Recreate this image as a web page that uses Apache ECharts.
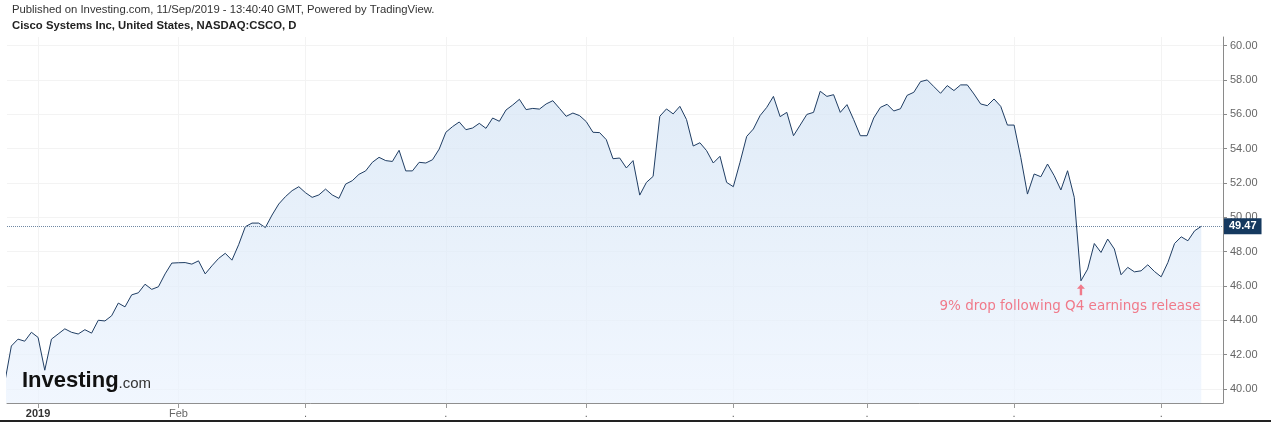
<!DOCTYPE html>
<html><head><meta charset="utf-8">
<script src="https://cdn.jsdelivr.net/npm/echarts@6/dist/echarts.min.js"></script>
<style>html,body{margin:0;padding:0;background:#fff}#c{width:1271px;height:423px}</style>
</head><body><div id="c"></div>
<script>
// Daily closes, 24 Dec 2018 .. 11 Sep 2019 (trading days)
const prices = [
40.35,42.5,42.9,42.78,43.3,43.0,41.09,42.9,43.2,43.5,
43.3,43.2,43.45,43.25,44.0,43.96,44.26,45.0,44.78,45.48,
45.6,46.1,45.8,45.95,46.7,47.33,47.35,47.36,47.27,47.46,
46.7,47.17,47.6,47.9,47.5,48.4,49.45,49.66,49.66,49.4,
50.13,50.77,51.2,51.55,51.78,51.43,51.16,51.3,51.64,51.3,
51.1,51.93,52.13,52.5,52.7,53.2,53.49,53.3,53.25,53.9,
52.7,52.7,53.2,53.16,53.35,53.97,54.95,55.28,55.55,55.1,
55.2,55.47,55.18,55.78,55.59,56.25,56.54,56.87,56.27,56.34,
56.3,56.6,56.79,56.34,55.88,56.07,55.92,55.57,54.95,54.93,
54.52,53.41,53.45,52.87,53.3,51.29,52.03,52.38,55.88,56.31,
56.02,56.46,55.69,54.15,54.34,53.88,53.16,53.55,52.03,51.78,
53.2,54.71,55.14,55.92,56.4,57.04,55.86,56.11,54.75,55.37,
55.99,56.11,57.34,57.04,57.14,56.11,56.56,55.69,54.75,54.75,
55.78,56.4,56.58,56.19,56.32,57.1,57.28,57.9,58.0,57.61,
57.22,57.67,57.38,57.71,57.71,57.18,56.6,56.5,56.89,56.46,
55.37,55.37,53.49,51.35,52.52,52.36,53.1,52.42,51.59,52.71,
51.16,46.3,46.98,48.47,47.95,48.73,48.15,46.65,47.08,46.82,
46.88,47.23,46.84,46.53,47.36,48.47,48.86,48.63,49.21,49.47
];
const lastPrice = 49.47;
const monthTickIdx = [5,26,45,66,87,109,129,151,173];
const monthTickLabels = ['2019','Feb','.','.','.','.','.','.','.'];
const yTicks = [40,42,44,46,48,50,52,54,56,58,60];
const headerLine1 = 'Published on Investing.com, 11/Sep/2019 - 13:40:40 GMT, Powered by TradingView.';
const headerLine2 = 'Cisco Systems Inc, United States, NASDAQ:CSCO, D';
const annotationText = '9% drop following Q4 earnings release';
const annotationIdx = 161;

const chart = echarts.init(document.getElementById('c'), null, {renderer:'canvas'});
const font = 'Arial, "Liberation Sans", sans-serif';
const wideFont = '"DejaVu Sans", Verdana, sans-serif';
chart.setOption({
  animation:false,
  backgroundColor:'#fff',
  textStyle:{fontFamily:font},
  title:[
    {text:headerLine1,left:12,top:4,padding:0,textStyle:{fontSize:11.3,fontWeight:'normal',color:'#333',fontFamily:font}},
    {text:headerLine2,left:12,top:20,padding:0,textStyle:{fontSize:11.3,fontWeight:'bold',color:'#222',fontFamily:font}}
  ],
  grid:{left:7,right:48,top:37,bottom:20},
  xAxis:{
    type:'value',min:0.35,max:182.25,
    axisLine:{show:true,lineStyle:{color:'#8f8f8f',width:1}},
    axisTick:{show:true,customValues:monthTickIdx,length:5,lineStyle:{color:'#9a9a9a'}},
    splitLine:{show:true,lineStyle:{color:'#f3f3f3',width:1}},
    axisLabel:{
      customValues:monthTickIdx,margin:5,fontSize:11,
      formatter:function(v){const k=monthTickIdx.indexOf(Math.round(v));const t=k>=0?monthTickLabels[k]:'';return k===0?'{b|'+t+'}':'{n|'+t+'}';},
      rich:{b:{fontWeight:'bold',color:'#333',fontSize:11,fontFamily:font},n:{color:'#666',fontSize:11,fontFamily:font}}
    }
  },
  yAxis:{
    type:'value',position:'right',min:39.18,max:60.5,
    axisLine:{show:true,lineStyle:{color:'#8a8a8a',width:1}},
    axisTick:{show:true,customValues:yTicks,length:4,lineStyle:{color:'#8a8a8a'}},
    splitLine:{show:true,lineStyle:{color:'#f3f3f3',width:1}},
    axisLabel:{customValues:yTicks,margin:7,fontSize:11,color:'#666',formatter:function(v){return v.toFixed(2);}}
  },
  graphic:[
    {type:'text',left:22,top:370,z:50,style:{
      text:'{a|Investing}{b|.com}',
      rich:{a:{fontSize:22,fontWeight:'bold',fill:'#111',fontFamily:font,lineHeight:24,verticalAlign:'bottom'},
            b:{fontSize:15,fill:'#333',fontFamily:font,lineHeight:24,verticalAlign:'bottom',padding:[0,0,1,0]}}
    }},
    {type:'line',z:50,shape:{x1:0,y1:421,x2:1271,y2:421},style:{stroke:'#222',lineWidth:2}}
  ],
  series:[{
    type:'line',
    data:prices.map(function(v,i){return [i,v];}),
    symbol:'none',
    lineStyle:{color:'#1f3d63',width:1},
    areaStyle:{color:new echarts.graphic.LinearGradient(0,0,0,1,[{offset:0,color:'#d3e3f4'},{offset:1,color:'#ebf3fe'}])},
    markLine:{
      silent:true,symbol:'none',
      data:[{yAxis:lastPrice}],
      lineStyle:{type:'dotted',color:'#7088a3',width:1},
      label:{show:true,position:'end',distance:1,formatter:lastPrice.toFixed(2),
        backgroundColor:'#15395f',color:'#fff',fontWeight:'bold',fontSize:11,padding:[3,5,2,5]}
    },
    markPoint:{
      silent:true,
      data:[
        {coord:[annotationIdx,prices[annotationIdx]],symbol:'path://M5,0 L10,5 L6.5,5 L6.5,12 L3.5,12 L3.5,5 L0,5 Z',
          symbolSize:[8,11],symbolOffset:[0,9],itemStyle:{color:'#f07a8a'},label:{show:false}},
        {coord:[annotationIdx,prices[annotationIdx]],symbol:'rect',symbolSize:1,itemStyle:{color:'rgba(0,0,0,0)'},
          label:{show:true,formatter:annotationText,offset:[-11,26],color:'#f07a8a',fontSize:13.5,fontFamily:wideFont}}
      ]
    }
  }]
});
</script></body></html>
